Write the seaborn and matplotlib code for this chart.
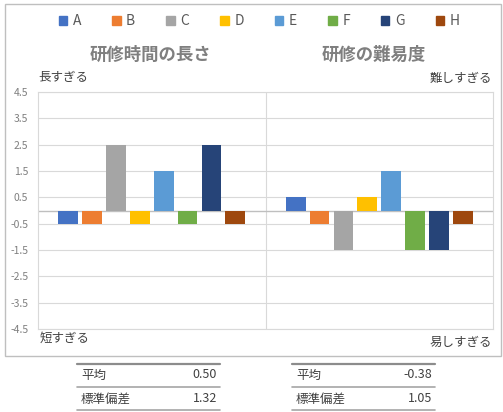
import numpy as np
import pandas as pd
import matplotlib
matplotlib.use("Agg")
import matplotlib.pyplot as plt
import matplotlib.patches as mpatches
from matplotlib.lines import Line2D
import seaborn as sns

# ---- data ----
categories = ["研修時間の長さ", "研修の難易度"]
series = ["A", "B", "C", "D", "E", "F", "G", "H"]
time_vals = [-0.5, -0.5, 2.5, -0.5, 1.5, -0.5, 2.5, -0.5]
diff_vals = [0.5, -0.5, -1.5, 0.5, 1.5, -1.5, -1.5, -0.5]
colors = ["#4472C4", "#ED7D31", "#A5A5A5", "#FFC000",
          "#5B9BD5", "#70AD47", "#264478", "#9E480E"]
top_labels = ["長すぎる", "難しすぎる"]
bottom_labels = ["短すぎる", "易しすぎる"]
yticks = [-4.5, -3.5, -2.5, -1.5, -0.5, 0.5, 1.5, 2.5, 3.5, 4.5]

df = pd.DataFrame({
    "項目": [categories[0]] * len(series) + [categories[1]] * len(series),
    "系列": series * 2,
    "値": time_vals + diff_vals,
})

sns.set_theme(style="white")
plt.rcParams["font.family"] = ["Noto Sans CJK JP", "DejaVu Sans"]

txt = "#595959"
grid = "#D9D9D9"

fig = plt.figure(figsize=(5.03, 4.12), dpi=100)
W, H = 503, 412
ax = fig.add_axes([38 / W, 1 - 329 / H, (493 - 38) / W, (329 - 92) / H])

sns.barplot(data=df, x="項目", y="値", hue="系列", order=categories,
            hue_order=series, palette=colors, saturation=1, width=0.84,
            gap=0.17, linewidth=0, legend=False, ax=ax)

ax.set_xlim(-0.5, 1.5)
ax.set_ylim(-4.5, 4.5)
ax.set_xticks([])
ax.set_yticks(yticks)
ax.set_yticklabels([f"{v:.1f}" for v in yticks], fontsize=7.5, color="#7F7F7F")
ax.tick_params(axis="y", length=0, pad=7)
ax.set_xlabel("")
ax.set_ylabel("")
for v in yticks:
    ax.axhline(v, color=grid, lw=0.8, zorder=0)
ax.axhline(0, color="#BFBFBF", lw=1.0, zorder=0.5)
ax.axvline(0.5, color=grid, lw=0.8, zorder=0)
for s in ax.spines.values():
    s.set_color(grid)
    s.set_linewidth(0.8)

# legend
handles = [mpatches.Patch(color=c, label=s) for s, c in zip(series, colors)]
fig.legend(handles=handles, loc="center", bbox_to_anchor=(0.515, 1 - 21 / H),
           ncol=8, frameon=False, handlelength=0.6, handleheight=0.6,
           handletextpad=0.4, columnspacing=2.25, fontsize=10,
           labelcolor=txt)

# group titles
for i, c in enumerate(categories):
    xx = [150, 374][i] / W
    fig.text(xx, 1 - 55 / H, c, ha="center", va="center", fontsize=12.5,
             color="#7F7F7F", fontweight="bold")

fig.text(38 / W, 1 - 78 / H, top_labels[0], ha="left", va="center",
         fontsize=9, color="#404040")
fig.text(492 / W, 1 - 78 / H, top_labels[1], ha="right", va="center",
         fontsize=9, color="#404040")
fig.text(40 / W, 1 - 338 / H, bottom_labels[0], ha="left", va="center",
         fontsize=9, color="#404040")
fig.text(492 / W, 1 - 342 / H, bottom_labels[1], ha="right", va="center",
         fontsize=9, color="#404040")

# chart border
fig.add_artist(mpatches.Rectangle((5 / W, 1 - 356 / H), (501 - 5) / W,
                                  (356 - 4) / H, fill=False, ec="#BFBFBF",
                                  lw=1.0, transform=fig.transFigure))

# stats tables
for vals, x0, x1 in [(time_vals, 77, 220), (diff_vals, 292, 435)]:
    mean = np.mean(vals)
    sd = np.std(vals)
    for y, lw, col in [(364, 1.6, "#8C8C8C"), (387, 1.2, "#A6A6A6"),
                       (410, 1.2, "#A6A6A6")]:
        fig.add_artist(Line2D([x0 / W, x1 / W], [1 - y / H, 1 - y / H],
                              color=col, lw=lw, transform=fig.transFigure))
    rows = [("平均", f"{mean:.2f}", 375), ("標準偏差", f"{sd:.2f}", 399)]
    for lab, val, y in rows:
        fig.text((x0 + 4) / W, 1 - y / H, lab, ha="left", va="center",
                 fontsize=9, color="#404040")
        fig.text((x1 - 3) / W, 1 - y / H, val, ha="right", va="center",
                 fontsize=9, color="#404040")

fig.savefig("out.png", dpi=100)
